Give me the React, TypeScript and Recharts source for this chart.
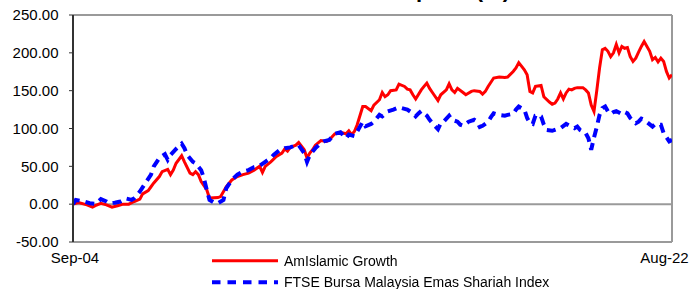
import { Line, LineChart, ReferenceLine, XAxis, YAxis } from "recharts";

const X_TICKS = [0, 215];
const X_TICK_LABELS = ["Sep-04", "Aug-22"];
const Y_TICKS = [-50, 0, 50, 100, 150, 200, 250];

// months counted from Sep-04
const FUND_MONTHS = [
  0, 2, 5, 7, 8, 10, 12, 14, 16, 18, 20, 22, 24, 25, 27, 28, 29, 31, 32, 34,
  35, 36, 37, 39, 40, 42, 43, 44, 45, 46, 48, 49, 52, 53, 55, 57, 59, 61, 63,
  65, 67, 68, 69, 71, 73, 75, 76, 77, 78, 80, 81, 83, 84, 85, 86, 87, 89, 91,
  92, 94, 96, 98, 99, 100, 101, 102, 104, 105, 107, 108, 110, 111, 112, 113,
  114, 116, 117, 119, 120, 121, 122, 123, 125, 126, 127, 128, 129, 131, 132,
  134, 135, 136, 137, 138, 140, 141, 143, 144, 146, 147, 148, 149, 151, 153,
  155, 156, 158, 159, 160, 162, 163, 164, 165, 166, 168, 169, 171, 172, 173,
  174, 175, 176, 177, 178, 179, 180, 181, 183, 184, 185, 186, 187, 188, 189,
  190, 191, 192, 193, 194, 195, 196, 197, 198, 199, 200, 201, 202, 203, 204,
  205, 207, 208, 209, 210, 211, 212, 213, 214, 215,
];
const FUND_VALUES = [
  0, 2, -1, -4, -2, 1, -1, -4, -2, 0, 0, 3.5, 6.6, 13.6, 18, 23, 28, 36.5, 43,
  46, 39, 45, 54, 64, 56, 41, 39, 43, 39, 30, 19, 8, 8.7, 10, 23, 32, 36.5, 39,
  41, 45, 50, 42, 50, 56, 63, 67.5, 73, 70, 75, 78, 81.5, 72, 61, 67.5, 72, 78,
  84, 83, 85, 93, 95, 93, 97, 92, 96, 105, 129, 129, 123.5, 131, 138, 147.6,
  142, 144.6, 150, 151, 158.7, 155.6, 152, 151, 144.6, 139, 151, 155.6, 160,
  153, 147.6, 137, 144.6, 151, 159, 151, 147.6, 153, 147.6, 144.6, 149, 150,
  149, 145.5, 149, 155.6, 166.7, 168, 167.5, 168, 175.4, 180, 187, 177.6, 171,
  149, 147, 155.6, 157, 142, 135, 132, 133.6, 139, 147, 139, 147, 152, 151, 153,
  154, 154, 151, 147, 131, 122.5, 150, 180, 204, 206, 202, 195, 200, 211, 200,
  208.5, 206, 207, 195, 188.6, 193, 201, 208.5, 215, 202, 191, 194, 188, 193,
  188.6, 175.4, 166.7, 171,
];

const INDEX_MONTHS = [
  0, 1, 4, 6, 8, 10, 12, 13, 15, 17, 19, 21, 22, 24, 26, 28, 29, 31, 33, 34, 35,
  37, 39, 40, 41, 43, 44, 46, 47, 48, 49, 51, 52, 54, 55, 57, 59, 61, 63, 65,
  67, 69, 71, 72, 74, 76, 78, 80, 81, 83, 84, 85, 87, 89, 90, 92, 94, 96, 98,
  99, 101, 102, 104, 105, 107, 108, 110, 111, 113, 115, 117, 119, 120, 122, 123,
  124, 125, 127, 128, 129, 131, 132, 133, 135, 136, 138, 139, 140, 142, 144,
  145, 146, 147, 149, 150, 151, 153, 155, 156, 158, 159, 160, 162, 163, 164,
  165, 166, 167, 168, 169, 170, 172, 174, 175, 177, 178, 180, 181, 182, 183,
  184, 185, 186, 187, 188, 189, 190, 191, 192, 193, 194, 195, 197, 198, 199,
  200, 202, 203, 204, 205, 206, 208, 209, 210, 211, 212, 214, 215,
];
const INDEX_VALUES = [
  0, 5.7, 3.5, 1.3, 0.4, 6.6, 3.5, 1.3, 2, 3.5, 7.5, 5.7, 8, 16.7, 28, 39, 50,
  61, 66, 58.6, 65, 73, 80, 74, 65, 56, 54, 45, 34, 19, 5.7, 1.3, 1.3, 5.7, 21,
  32, 39, 43, 45, 49, 50.7, 56, 61, 65, 71, 74, 75, 78, 78, 67.5, 56, 65, 74,
  81, 83, 85, 93, 95, 87, 92, 90, 96, 109, 103, 106, 109, 118, 116, 122.5, 125,
  128, 126, 125, 120, 116, 120, 123, 117, 111.5, 107, 99, 107, 109, 117, 111.5,
  109, 105, 103.6, 109, 111.5, 109, 102, 103.6, 109, 115, 120, 118, 117, 118,
  119.5, 125, 129, 125, 114, 107, 106, 117, 118, 116, 105, 98, 97, 99.6, 100.5,
  106, 104, 100.5, 102.6, 98, 96, 94, 87, 72, 88, 102, 118, 127, 129, 122.5,
  119, 121.7, 123, 119, 121.7, 120, 114, 107, 109, 113, 111.5, 108.5, 102.6,
  106, 105, 105, 94, 83, 85,
];

const fundData = FUND_MONTHS.map((m, i) => ({ m, v: FUND_VALUES[i] }));
const indexData = INDEX_MONTHS.map((m, i) => ({ m, v: INDEX_VALUES[i] }));

const FONT = "'Liberation Sans', Arial, Helvetica, sans-serif";
const FRAME = "#9a9a9a";

function MonthTick({ x, y, payload }: any) {
  const idx = X_TICKS.indexOf(payload.value);
  const isLast = idx === X_TICKS.length - 1;
  return (
    <text
      x={isLast ? x - 7.5 : x + 2}
      y={y + 20.5}
      textAnchor="middle"
      fontSize={15}
      fill="#000"
      fontFamily={FONT}
    >
      {X_TICK_LABELS[idx]}
    </text>
  );
}

export default function App() {
  return (
    <div
      style={{
        position: "fixed",
        left: 0,
        top: 0,
        width: 700,
        height: 289,
        background: "#fff",
        fontFamily: FONT,
      }}
    >
      {/* title sits above the crop, only its descenders reach the picture */}
      <svg
        width={700}
        height={8}
        style={{ position: "absolute", left: 0, top: 0 }}
      >
        <text
          x={510}
          y={-2.8}
          textAnchor="end"
          fontSize={22}
          fontWeight="bold"
          fontFamily={FONT}
          fill="#000"
        >
          Performance Since Inception (%)
        </text>
      </svg>
      <LineChart
        width={700}
        height={289}
        margin={{ top: 15, right: 28, bottom: 0, left: 0 }}
      >
        <XAxis
          dataKey="m"
          type="number"
          domain={[0, 215]}
          ticks={X_TICKS}
          tick={<MonthTick />}
          tickLine={false}
          tickSize={0}
          tickMargin={0}
          height={47}
          axisLine={{ stroke: FRAME, strokeWidth: 2 }}
          allowDataOverflow
        />
        <YAxis
          type="number"
          domain={[-50, 250]}
          ticks={Y_TICKS}
          width={73}
          tickSize={4}
          tickMargin={10.5}
          tickFormatter={(v: number) => v.toFixed(2)}
          tick={{ fontSize: 15, fill: "#000", fontFamily: FONT }}
          tickLine={{ stroke: "#333" }}
          axisLine={{ stroke: "#333", strokeWidth: 2 }}
          allowDataOverflow
        />
        <ReferenceLine y={250} stroke={FRAME} strokeWidth={2} />
        <ReferenceLine y={0} stroke={FRAME} strokeWidth={2} />
        <ReferenceLine x={215} stroke={FRAME} strokeWidth={2} />
        <Line
          data={fundData}
          dataKey="v"
          name="AmIslamic Growth"
          type="linear"
          stroke="#ff0000"
          strokeWidth={3}
          dot={false}
          isAnimationActive={false}
        />
        <Line
          data={indexData}
          dataKey="v"
          name="FTSE Bursa Malaysia Emas Shariah Index"
          type="linear"
          stroke="#0000ff"
          strokeWidth={4}
          strokeDasharray="9 6"
          dot={false}
          isAnimationActive={false}
        />
      </LineChart>
      <svg
        width={700}
        height={50}
        style={{ position: "absolute", left: 0, top: 245 }}
      >
        <line x1={212} x2={278} y1={15.7} y2={15.7} stroke="#ff0000" strokeWidth={3} />
        <text x={284} y={20.7} fontSize={14} fill="#000" fontFamily={FONT}>
          AmIslamic Growth
        </text>
        <line
          x1={212}
          x2={278}
          y1={37.3}
          y2={37.3}
          stroke="#0000ff"
          strokeWidth={4}
          strokeDasharray="8.5 7"
        />
        <text x={284} y={42.3} fontSize={14} fill="#000" fontFamily={FONT}>
          FTSE Bursa Malaysia Emas Shariah Index
        </text>
      </svg>
    </div>
  );
}
